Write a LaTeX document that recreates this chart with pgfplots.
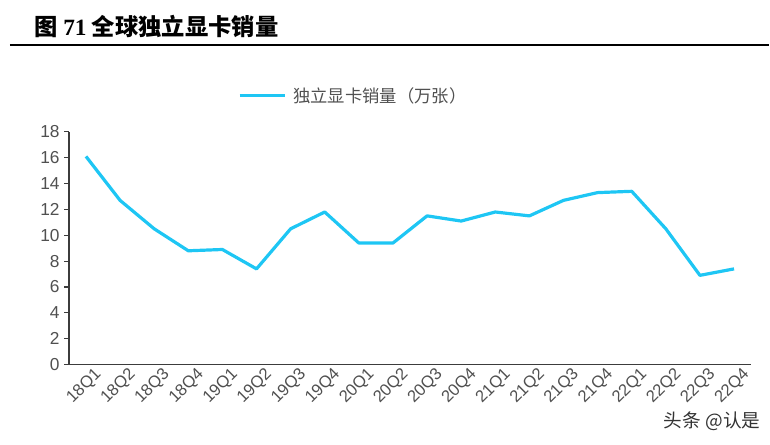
\documentclass[border=0pt]{standalone}
\usepackage{pgfplots}
\pgfplotsset{compat=1.18}
\usepackage{fontspec}
\setmainfont{Liberation Sans}
\newfontfamily\cjk{Noto Sans CJK SC}
\newfontfamily\titleserif{Liberation Serif}
\definecolor{linecyan}{RGB}{30,198,244}
\definecolor{axisgray}{RGB}{60,60,60}
\definecolor{labgray}{RGB}{80,80,80}
\begin{document}
\begin{tikzpicture}[x=0.75pt,y=-0.75pt]
% page frame 770 x 445 px
\path (0,0) rectangle (770,445);
\node[anchor=west,font=\cjk\bfseries\fontsize{17.5}{17.5}\selectfont] at (30,27) {图 {\titleserif\bfseries 71} 全球独立显卡销量};
\draw[line width=1.4pt] (10,45) -- (770,45);
\begin{axis}[
  at={(51.75pt,-273.75pt)}, anchor=south west,
  scale only axis,
  width=512.25pt, height=174.75pt,
  xmin=-0.5, xmax=19.5,
  ymin=0, ymax=18,
  ytick={0,2,...,18},
  xtick={0,...,19},
  xticklabels={18Q1,18Q2,18Q3,18Q4,19Q1,19Q2,19Q3,19Q4,20Q1,20Q2,20Q3,20Q4,21Q1,21Q2,21Q3,21Q4,22Q1,22Q2,22Q3,22Q4},
  axis x line*=bottom, axis y line*=left,
  axis line style={axisgray, line width=1pt, -},
  major x tick style={draw=none},
  major y tick style={axisgray, line width=0.8pt},
  ytick align=outside, major tick length=3.5pt,
  /pgf/number format/assume math mode=true,
  yticklabel style={font=\fontsize{13}{13}\selectfont, text=labgray},
  xticklabel style={font=\fontsize{12.5}{12.5}\selectfont, text=labgray, rotate=45, anchor=north east, inner sep=1pt, yshift=-4pt, xshift=4pt},
  clip=false,
]
\addplot[linecyan, line width=2.4pt, line join=round] coordinates {
(0,16.1) (1,12.7) (2,10.5) (3,8.8) (4,8.9) (5,7.4) (6,10.5) (7,11.8) (8,9.4) (9,9.4)
(10,11.5) (11,11.1) (12,11.8) (13,11.5) (14,12.7) (15,13.3) (16,13.4) (17,10.5) (18,6.9) (19,7.4)};
\end{axis}
% legend
\draw[linecyan, line width=2.4pt] (240,96) -- (285,96);
\node[anchor=west, text=labgray, font=\cjk\fontsize{13}{13}\selectfont] at (289,96) {独立显卡销量（万张）};
% watermark
\node[anchor=east, text=black!80, font=\cjk\fontsize{14}{14}\selectfont] at (766,422) {头条 @认是};
\end{tikzpicture}
\end{document}
